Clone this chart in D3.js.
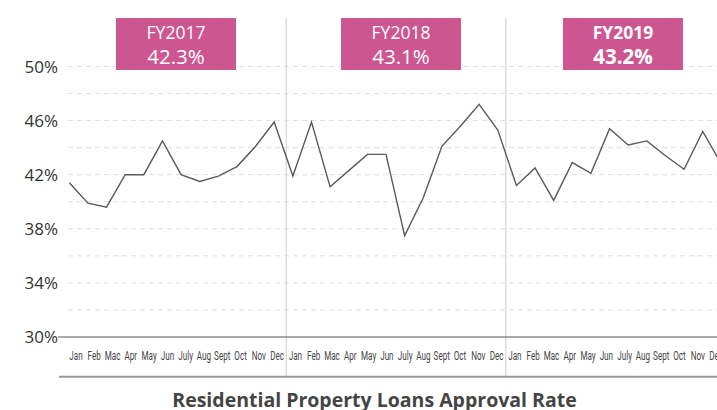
<!DOCTYPE html>
<html>
<head>
<meta charset="utf-8">
<script src="https://cdn.jsdelivr.net/npm/d3@7"></script>
<style>
  html, body { margin: 0; padding: 0; background: #fff; overflow: hidden; }
  svg { display: block; }
</style>
</head>
<body>
<svg id="chart" width="717" height="410"></svg>
<script>
// ---- data ----
const years = ["FY2017", "FY2018", "FY2019"];
const yearAverages = ["42.3%", "43.1%", "43.2%"];
const months = ["Jan","Feb","Mac","Apr","May","Jun","July","Aug","Sept","Oct","Nov","Dec"];
const fy2017 = [41.4, 39.9, 39.6, 42.0, 42.0, 44.5, 42.0, 41.5, 41.9, 42.6, 44.1, 45.9];
const fy2018 = [41.9, 45.9, 41.1, 42.3, 43.5, 43.5, 37.5, 40.3, 44.1, 45.6, 47.2, 45.3];
const fy2019 = [41.2, 42.5, 40.1, 42.9, 42.1, 45.4, 44.2, 44.5, 43.4, 42.4, 45.2, 42.8];
const yTicks = [30, 34, 38, 42, 46, 50];
const gridValues = [32, 34, 36, 38, 40, 42, 44, 46, 48, 50];
const title = "Residential Property Loans Approval Rate";

// ---- layout ----
const W = 717, H = 410;
const svg = d3.select("#chart");
const values = [...fy2017, ...fy2018, ...fy2019];
const labels = years.flatMap(() => months);
const idx = values.map((_, i) => i);

const y = d3.scaleLinear().domain([30, 50]).range([337, 66.5]);
const xLine = d3.scaleLinear().domain([0, 35]).range([69.3, 69.3 + 35 * 18.63]);
const xBand = d3.scaleBand().domain(idx).range([66.8, 66.8 + 36 * 18.29]).padding(0);

const fontMain = "'Open Sans', 'Noto Sans', sans-serif";

// grid lines (dashed)
svg.append("g").selectAll("line").data(gridValues).join("line")
  .attr("x1", 68).attr("x2", W)
  .attr("y1", d => y(d)).attr("y2", d => y(d))
  .attr("stroke", "#dedede").attr("stroke-width", 1)
  .attr("stroke-dasharray", "5,4");

// year separators
const seps = [12, 24];
svg.append("g").selectAll("line").data(seps).join("line")
  .attr("x1", d => xBand(d)).attr("x2", d => xBand(d))
  .attr("y1", 18).attr("y2", 377)
  .attr("stroke", "#dcdcdc").attr("stroke-width", 1.5);

// y axis labels
const yAxis = d3.axisLeft(y).tickValues(yTicks).tickSize(0).tickPadding(0)
  .tickFormat(d => d + "%");
const gy = svg.append("g").attr("transform", "translate(58,0)").call(yAxis);
gy.select(".domain").remove();
gy.selectAll("text")
  .attr("font-family", fontMain).attr("font-size", 17)
  .attr("fill", "#333").attr("dy", "0.35em").attr("x", 0);

// baseline at 30%
svg.append("line")
  .attr("x1", 58).attr("x2", W).attr("y1", y(30)).attr("y2", y(30))
  .attr("stroke", "#555").attr("stroke-width", 1.2);

// month labels (condensed by horizontal scaling)
const xAxis = d3.axisBottom(xBand).tickSize(0).tickPadding(0)
  .tickFormat(i => labels[i]);
const gx = svg.append("g").attr("transform", "translate(0,350)").call(xAxis);
gx.select(".domain").remove();
gx.selectAll("text")
  .attr("font-family", "'Roboto', 'DejaVu Sans', sans-serif")
  .attr("font-size", 13.5).attr("fill", "#444").attr("dy", "0.71em")
  .attr("y", 0)
  .attr("transform", "scale(0.6,1)");

// bottom rule
svg.append("line")
  .attr("x1", 59).attr("x2", W).attr("y1", 376.7).attr("y2", 376.7)
  .attr("stroke", "#999").attr("stroke-width", 2);

// data line
const line = d3.line().x((d, i) => xLine(i)).y(d => y(d));
svg.append("path").datum(values)
  .attr("d", line).attr("fill", "none")
  .attr("stroke", "#5a5a5a").attr("stroke-width", 1.4)
  .attr("stroke-linejoin", "miter");

// year boxes
const boxCenters = [176, 401, 623];
const boxes = svg.append("g").selectAll("g").data(years).join("g")
  .attr("transform", (d, i) => `translate(${boxCenters[i]},0)`);
boxes.append("rect")
  .attr("x", -60).attr("y", 18).attr("width", 120).attr("height", 52)
  .attr("fill", "#cd5690");
boxes.append("text")
  .attr("y", 39.3).attr("text-anchor", "middle")
  .attr("font-family", fontMain).attr("font-size", 17.5)
  .attr("font-weight", (d, i) => i === 2 ? 700 : 400)
  .attr("fill", "#fff").text(d => d);
boxes.append("text")
  .attr("y", 63.5).attr("text-anchor", "middle")
  .attr("font-family", fontMain).attr("font-size", 20.5)
  .attr("font-weight", (d, i) => i === 2 ? 700 : 400)
  .attr("fill", "#fff").text((d, i) => yearAverages[i]);

// title
svg.append("text")
  .attr("x", 374.5).attr("y", 407).attr("text-anchor", "middle")
  .attr("font-family", fontMain).attr("font-size", 19.5).attr("font-weight", 700)
  .attr("fill", "#444").text(title);
</script>
</body>
</html>
